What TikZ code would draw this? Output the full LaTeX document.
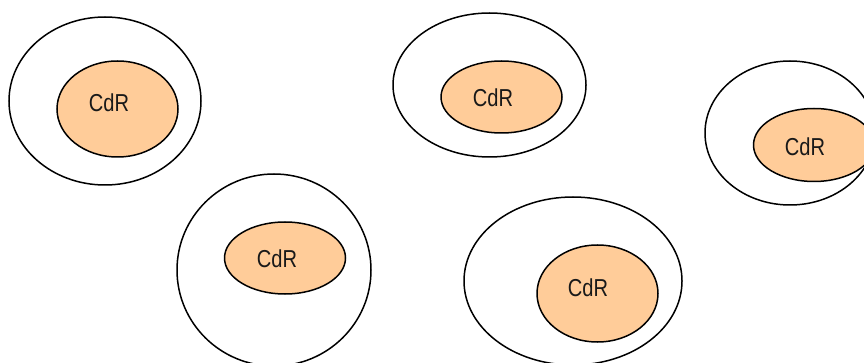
\documentclass[tikz,border=0pt]{standalone}
\usepackage{fontspec}
\newfontfamily\cdrfont[FakeStretch=0.82]{Liberation Sans}
\usetikzlibrary{shapes.geometric}
\definecolor{peach}{HTML}{FFCC99}
\tikzset{
  outerring/.style={draw=black, line width=1.5pt, ellipse, inner sep=0pt},
  core/.style={draw=black, fill=peach, line width=1.5pt, ellipse, inner sep=0pt,
    minimum width=121pt},
  cdr/.style={inner sep=0pt, font=\cdrfont\fontsize{24.5}{26}\selectfont, text=black!90}
}
\begin{document}
\begin{tikzpicture}[x=1pt, y=-1pt]
  \useasboundingbox (0,0) rectangle (864,363);
  \clip (0,0) rectangle (864,363);

  % outer rings
  \node[outerring, minimum width=192pt, minimum height=168pt] (o1) at (105,101) {};
  \node[outerring, minimum width=193pt, minimum height=144pt] (o2) at (489.5,85) {};
  \node[outerring, minimum width=170pt, minimum height=144pt] (o3) at (790,133) {};
  \node[outerring, minimum width=194pt, minimum height=192pt] (o4) at (274,270) {};
  \node[outerring, minimum width=218pt, minimum height=168pt] (o5) at (573,281) {};

  % inner cores
  \node[core, minimum height=96pt] (c1) at (117.5,109) {};
  \node[core, minimum height=72pt] (c2) at (501.5,97) {};
  \node[core, minimum height=73pt] (c3) at (814,145) {};
  \node[core, minimum height=72pt] (c4) at (285,258) {};
  \node[core, minimum height=97pt] (c5) at (597.5,293.5) {};

  % labels
  \node[cdr] (t1) at (109,103) {CdR};
  \node[cdr] (t2) at (493,98) {CdR};
  \node[cdr] (t3) at (805,147) {CdR};
  \node[cdr] (t4) at (277,259) {CdR};
  \node[cdr] (t5) at (588,288) {CdR};
\end{tikzpicture}
\end{document}
